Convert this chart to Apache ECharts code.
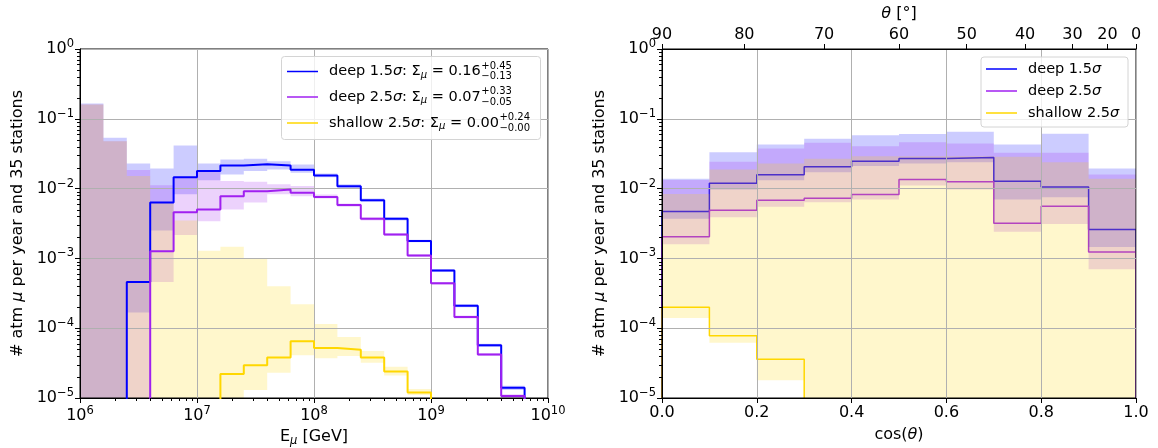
<!DOCTYPE html>
<html>
<head>
<meta charset="utf-8">
<script src="https://cdn.jsdelivr.net/npm/echarts@6/dist/echarts.min.js"></script>
<style>
  html, body { margin: 0; padding: 0; background: #fff; }
  #chart { width: 1158px; height: 448px; }
</style>
</head>
<body>
<div id="chart"></div>
<script>
// --- energy panel: bin edges in log10(E/GeV)
const eEdgesLog = [6.0, 6.2, 6.4, 6.6, 6.8, 7.0, 7.2, 7.4, 7.6, 7.8, 8.0, 8.2, 8.4, 8.6, 8.8, 9.0, 9.2, 9.4, 9.6, 9.8];

const deep15E   = [0, 0, 4.6e-4, 6.3e-3, 0.0146, 0.0178, 0.0214, 0.0224, 0.0214, 0.0186, 0.0154, 0.0108, 6.8e-3, 3.7e-3, 1.77e-3, 6.7e-4, 2.1e-4, 5.7e-5, 1.4e-5];
const deep15ELo = [0, 0, 1.68e-4, 2.5e-3, 8.3e-3, 0.0132, 0.0159, 0.0178, 0.0188, 0.0169, 0.0145, 0.0102, 6.5e-3, 3.5e-3, 1.7e-3, 6.4e-4, 2.0e-4, 5.4e-5, 1.3e-5];
const deep15EHi = [0.165, 0.0534, 0.0228, 0.0194, 0.0414, 0.0228, 0.0261, 0.0267, 0.0247, 0.0221, 0.0165, 0.0115, 7.2e-3, 3.9e-3, 1.85e-3, 7.0e-4, 2.2e-4, 6.0e-5, 1.5e-5];

const deep25E   = [0, 0, 0, 1.27e-3, 4.6e-3, 5.0e-3, 7.8e-3, 9.2e-3, 9.7e-3, 8.7e-3, 7.6e-3, 5.8e-3, 3.7e-3, 2.2e-3, 1.1e-3, 4.4e-4, 1.45e-4, 4.2e-5, 1.07e-5];
const deep25ELo = [0, 0, 0, 4.6e-4, 2.16e-3, 3.4e-3, 5.0e-3, 6.3e-3, 8.3e-3, 7.8e-3, 7.2e-3, 5.5e-3, 3.5e-3, 2.1e-3, 1.05e-3, 4.2e-4, 1.38e-4, 4.0e-5, 1.0e-5];
const deep25EHi = [0.16, 0.0477, 0.0184, 0.0112, 0.0145, 0.0178, 0.0129, 0.0125, 0.0115, 0.0109, 8.2e-3, 6.1e-3, 3.9e-3, 2.3e-3, 1.15e-3, 4.6e-4, 1.52e-4, 4.4e-5, 1.13e-5];

const shallowE   = [0, 0, 0, 0, 0, 0, 2.2e-5, 2.95e-5, 3.8e-5, 6.5e-5, 5.2e-5, 4.9e-5, 3.8e-5, 2.4e-5, 1.2e-5, 0, 0, 0, 0];
const shallowELo = [0, 0, 0, 0, 0, 0, 0, 1.3e-5, 2.3e-5, 4.1e-5, 3.7e-5, 4.0e-5, 3.2e-5, 2.1e-5, 1.1e-5, 0, 0, 0, 0];
const shallowEHi = [0.16, 0.0477, 0.0151, 6.2e-3, 3.5e-3, 1.29e-3, 1.47e-3, 1.0e-3, 4.0e-4, 2.2e-4, 1.15e-4, 7.5e-5, 4.7e-5, 2.8e-5, 1.35e-5, 0, 0, 0, 0];

// --- zenith panel: bin edges in cos(theta)
const cEdges = [0.0, 0.1, 0.2, 0.3, 0.4, 0.5, 0.6, 0.7, 0.8, 0.9, 1.0];

const deep15C   = [4.7e-3, 0.0119, 0.0158, 0.0205, 0.0247, 0.0270, 0.0279, 0.0127, 0.0105, 2.6e-3];
const deep15CLo = [3.7e-3, 9.7e-3, 0.0132, 0.0172, 0.0210, 0.0229, 0.0239, 7.0e-3, 7.5e-3, 1.46e-3];
const deep15CHi = [0.0138, 0.0332, 0.0428, 0.0516, 0.0582, 0.0608, 0.0650, 0.0428, 0.0610, 0.0194];

const deep25C   = [2.05e-3, 4.9e-3, 6.8e-3, 7.3e-3, 8.2e-3, 0.0135, 0.0125, 3.2e-3, 5.6e-3, 1.23e-3];
const deep25CLo = [1.6e-3, 3.9e-3, 5.5e-3, 6.4e-3, 7.0e-3, 0.0111, 9.7e-3, 2.4e-3, 3.1e-3, 7.0e-4];
const deep25CHi = [0.0133, 0.0242, 0.0375, 0.0453, 0.0405, 0.0462, 0.0442, 0.0326, 0.0326, 0.0159];

const shallowC   = [2.0e-4, 7.8e-5, 3.6e-5, 0, 0, 0, 0, 0, 0, 0];
const shallowCLo = [1.4e-4, 6.2e-5, 1.8e-5, 0, 0, 0, 0, 0, 0, 0];
const shallowCHi = [8.4e-3, 0.0188, 0.0229, 0.0267, 0.0290, 0.0290, 0.0290, 0.0286, 0.0239, 0.0138];

const thetaTicks = [90, 80, 70, 60, 50, 40, 30, 20, 0];

const legendE = [
  { name: 'deep 1.5', sum: '0.16', up: '+0.45', dn: '\u22120.13' },
  { name: 'deep 2.5', sum: '0.07', up: '+0.33', dn: '\u22120.05' },
  { name: 'shallow 2.5', sum: '0.00', up: '+0.24', dn: '\u22120.00' }
];
const legendC = ['deep 1.5', 'deep 2.5', 'shallow 2.5'];

const COLORS = ['#0000ff', '#a020f0', '#ffd700'];
const BANDS = ['rgba(0,0,255,0.2)', 'rgba(160,32,240,0.2)', 'rgba(255,215,0,0.2)'];
const FONT = 'DejaVu Sans';
const FLOOR = 1e-9;

const eEdges = eEdgesLog.map(v => Math.pow(10, v));

const myChart = echarts.init(document.getElementById('chart'), null, { renderer: 'canvas' });

// step outline of a histogram, dropping to the floor at both ends
function stepPoints(edges, vals) {
  const pts = [[edges[0], FLOOR]];
  vals.forEach((v, i) => {
    const y = v > 0 ? v : FLOOR;
    pts.push([edges[i], y], [edges[i + 1], y]);
  });
  pts.push([edges[edges.length - 1], FLOOR]);
  return pts;
}

function lineSeries(edges, vals, color, xi, yi, z, width) {
  return {
    type: 'line', xAxisIndex: xi, yAxisIndex: yi, z: z,
    data: stepPoints(edges, vals), showSymbol: false, symbol: 'none',
    clip: true, silent: true, animation: false,
    lineStyle: { color: color, width: width }
  };
}

// shaded uncertainty band as one polygon
function bandSeries(edges, lo, hi, fill, xi, yi, z) {
  return {
    type: 'custom', xAxisIndex: xi, yAxisIndex: yi, z: z, silent: true, animation: false,
    data: [[edges[1], 1e-3]],
    renderItem: (params, api) => {
      const cs = params.coordSys;
      const cy = y => Math.min(Math.max(y, cs.y), cs.y + cs.height);
      const top = [], bot = [];
      for (let i = 0; i < lo.length; i++) {
        const h = hi[i] > 0 ? hi[i] : FLOOR;
        const l = lo[i] > 0 ? lo[i] : FLOOR;
        const a = api.coord([edges[i], h]), b = api.coord([edges[i + 1], h]);
        top.push([a[0], cy(a[1])], [b[0], cy(b[1])]);
        const c = api.coord([edges[i], l]), d = api.coord([edges[i + 1], l]);
        bot.push([c[0], cy(c[1])], [d[0], cy(d[1])]);
      }
      return { type: 'polygon', shape: { points: top.concat(bot.reverse()) }, style: { fill: fill } };
    }
  };
}

// minor ticks of the log axes (2..9 per decade)
function minorTicks(xi, yi, axis, vals, anchor) {
  return {
    type: 'custom', xAxisIndex: xi, yAxisIndex: yi, z: 10, silent: true, animation: false, clip: false,
    data: vals.map(v => axis === 'x' ? [v, anchor] : [anchor, v]),
    renderItem: (params, api) => {
      const cs = params.coordSys;
      const p = api.coord([api.value(0), api.value(1)]);
      if (axis === 'x') {
        const x = Math.round(p[0]) + 0.5;
        return { type: 'line', shape: { x1: x, y1: cs.y + cs.height, x2: x, y2: cs.y + cs.height + 3 }, style: { stroke: '#000', lineWidth: 1 } };
      }
      const y = Math.round(p[1]) + 0.5;
      return { type: 'line', shape: { x1: cs.x, y1: y, x2: cs.x - 3, y2: y }, style: { stroke: '#000', lineWidth: 1 } };
    }
  };
}

function decadeMinors(lo, hi) {
  const out = [];
  for (let k = lo; k < hi; k++) for (let m = 2; m <= 9; m++) out.push(m * Math.pow(10, k));
  return out;
}

const tickRich = {
  b: { fontSize: 16, fontFamily: FONT, color: '#000' },
  s: { fontSize: 11.5, fontFamily: FONT, color: '#000', padding: [0, 0, 10, 0] }
};
const nameRich = {
  t: { fontSize: 16, fontFamily: FONT, color: '#000' },
  i: { fontSize: 16, fontFamily: FONT, fontStyle: 'italic', color: '#000' },
  si: { fontSize: 11.5, fontFamily: FONT, fontStyle: 'italic', color: '#000', padding: [8, 0, 0, 0] }
};
const powLabel = v => {
  const e = Math.round(Math.log10(v));
  return '{b|10}{s|' + (e < 0 ? '\u2212' + (-e) : e) + '}';
};

function logYAxis(gi) {
  return {
    gridIndex: gi, type: 'log', logBase: 10, min: 1e-5, max: 1,
    axisLine: { show: true, lineStyle: { color: '#000', width: 1 } },
    axisTick: { show: true, length: 5, lineStyle: { color: '#000' } },
    axisLabel: { margin: 6, formatter: powLabel, rich: tickRich },
    splitLine: { show: true, lineStyle: { color: '#b0b0b0', width: 1 } },
    name: '{t|# atm }{i|\u03bc}{t| per year and 35 stations}',
    nameLocation: 'middle', nameRotate: 90, nameGap: 54,
    nameTextStyle: { rich: nameRich }
  };
}

const cosTicks = thetaTicks.map(t => t === 90 ? 0 : Math.cos(t * Math.PI / 180));

const option = {
  animation: false,
  backgroundColor: '#fff',
  textStyle: { fontFamily: FONT },
  grid: [
    { left: 80, top: 49, width: 468, height: 349, outerBoundsMode: 'none', containLabel: false, show: true, borderColor: '#000', borderWidth: 1, backgroundColor: 'transparent' },
    { left: 662, top: 49, width: 474, height: 349, outerBoundsMode: 'none', containLabel: false, show: true, borderColor: '#000', borderWidth: 1, backgroundColor: 'transparent' }
  ],
  xAxis: [
    {
      gridIndex: 0, type: 'log', logBase: 10, min: 1e6, max: 1e10,
      axisLine: { show: true, onZero: false, lineStyle: { color: '#000', width: 1 } },
      axisTick: { show: true, length: 5, lineStyle: { color: '#000' } },
      axisLabel: { margin: 7, formatter: powLabel, rich: tickRich },
      splitLine: { show: true, lineStyle: { color: '#b0b0b0', width: 1 } },
      name: '{t|E}{si|\u03bc}{t| [GeV]}', nameLocation: 'middle', nameGap: 29,
      nameTextStyle: { rich: nameRich }
    },
    {
      gridIndex: 1, type: 'value', min: 0, max: 1, interval: 0.2,
      axisLine: { show: true, onZero: false, lineStyle: { color: '#000', width: 1 } },
      axisTick: { show: true, length: 5, lineStyle: { color: '#000' } },
      axisLabel: { margin: 7, fontSize: 16, color: '#000', fontFamily: FONT, formatter: v => v.toFixed(1) },
      splitLine: { show: true, lineStyle: { color: '#b0b0b0', width: 1 } },
      name: '{t|cos(}{i|\u03b8}{t|)}', nameLocation: 'middle', nameGap: 29,
      nameTextStyle: { rich: nameRich }
    },
    {
      gridIndex: 1, type: 'value', position: 'top', min: 0, max: 1,
      axisLine: { show: true, onZero: false, lineStyle: { color: '#000', width: 1 } },
      axisTick: { show: true, length: 5, customValues: cosTicks, lineStyle: { color: '#000' } },
      axisLabel: {
        margin: 6, fontSize: 16, color: '#000', fontFamily: FONT, customValues: cosTicks,
        formatter: v => String(Math.round(Math.acos(Math.min(1, v)) * 180 / Math.PI))
      },
      splitLine: { show: false },
      name: '{i|\u03b8}{t| [\u00b0]}', nameLocation: 'middle', nameGap: 26,
      nameTextStyle: { rich: nameRich }
    }
  ],
  yAxis: [logYAxis(0), logYAxis(1)],
  series: [
    bandSeries(eEdges, deep15ELo, deep15EHi, BANDS[0], 0, 0, -1),
    bandSeries(eEdges, deep25ELo, deep25EHi, BANDS[1], 0, 0, -1),
    bandSeries(eEdges, shallowELo, shallowEHi, BANDS[2], 0, 0, -1),
    lineSeries(eEdges, deep15E, COLORS[0], 0, 0, 3, 2),
    lineSeries(eEdges, deep25E, COLORS[1], 0, 0, 3, 2),
    lineSeries(eEdges, shallowE, COLORS[2], 0, 0, 3, 2),

    lineSeries(cEdges, deep15C, COLORS[0], 1, 1, -2, 1.5),
    lineSeries(cEdges, deep25C, COLORS[1], 1, 1, -2, 1.5),
    lineSeries(cEdges, shallowC, COLORS[2], 1, 1, -2, 1.5),
    bandSeries(cEdges, deep15CLo, deep15CHi, BANDS[0], 1, 1, -1),
    bandSeries(cEdges, deep25CLo, deep25CHi, BANDS[1], 1, 1, -1),
    bandSeries(cEdges, shallowCLo, shallowCHi, BANDS[2], 1, 1, -1),

    minorTicks(0, 0, 'x', decadeMinors(6, 10), 1e-3),
    minorTicks(0, 0, 'y', decadeMinors(-5, 0), 1e7),
    minorTicks(1, 1, 'y', decadeMinors(-5, 0), 0.5)
  ],
  graphic: []
};

// legends drawn by hand (stacked super/subscripts)
const ctx = document.createElement('canvas').getContext('2d');
function textW(str, size, italic) {
  ctx.font = (italic ? 'italic ' : '') + size + 'px "' + FONT + '"';
  return ctx.measureText(str).width;
}
const LF = 14.5, LS = 10;
const legRich = {
  n: { fontSize: LF, fontFamily: FONT, fill: '#000' },
  i: { fontSize: LF, fontFamily: FONT, fontStyle: 'italic', fill: '#000' },
  si: { fontSize: LS, fontFamily: FONT, fontStyle: 'italic', fill: '#000', padding: [7, 0, 0, 0] }
};

function legendBox(x, y, w, h) {
  return { type: 'rect', shape: { x: x, y: y, width: w, height: h, r: 3 }, style: { fill: 'rgba(255,255,255,0.8)', stroke: '#d4d4d4', lineWidth: 1 }, z: 20 };
}
function legendLine(x1, x2, y, color) {
  return { type: 'line', shape: { x1: x1, y1: y, x2: x2, y2: y }, style: { stroke: color, lineWidth: 1.5 }, z: 21 };
}
function legendText(x, y, text, size) {
  return { type: 'text', x: x, y: y, z: 21, style: { text: text, rich: legRich, fontSize: size || LF, fontFamily: FONT, fill: '#000', verticalAlign: 'middle', align: 'left' } };
}

const gE = [legendBox(281.5, 56.5, 259, 83)];
const rowsE = [71.5, 97, 123];
legendE.forEach((d, k) => {
  const y = rowsE[k], tx = 329;
  gE.push(legendLine(287, 318, y, COLORS[k]));
  gE.push(legendText(tx, y, '{n|' + d.name + '}{i|\u03c3}{n|: \u03a3}{si|\u03bc}{n| = ' + d.sum + '}'));
  const w = textW(d.name, LF) + textW('\u03c3', LF, true) + textW(': \u03a3', LF) + textW('\u03bc', LS, true) + textW(' = ' + d.sum, LF);
  gE.push(legendText(tx + w + 0.5, y - 5.5, d.up, LS));
  gE.push(legendText(tx + w + 0.5, y + 5, d.dn, LS));
});

const gC = [legendBox(981, 57, 147, 70)];
const rowsC = [69, 91, 113];
legendC.forEach((name, k) => {
  gC.push(legendLine(986, 1017, rowsC[k], COLORS[k]));
  gC.push(legendText(1028, rowsC[k], '{n|' + name + '}{i|\u03c3}'));
});

option.graphic = gE.concat(gC);
myChart.setOption(option);
window.addEventListener('resize', () => myChart.resize());
</script>
</body>
</html>
